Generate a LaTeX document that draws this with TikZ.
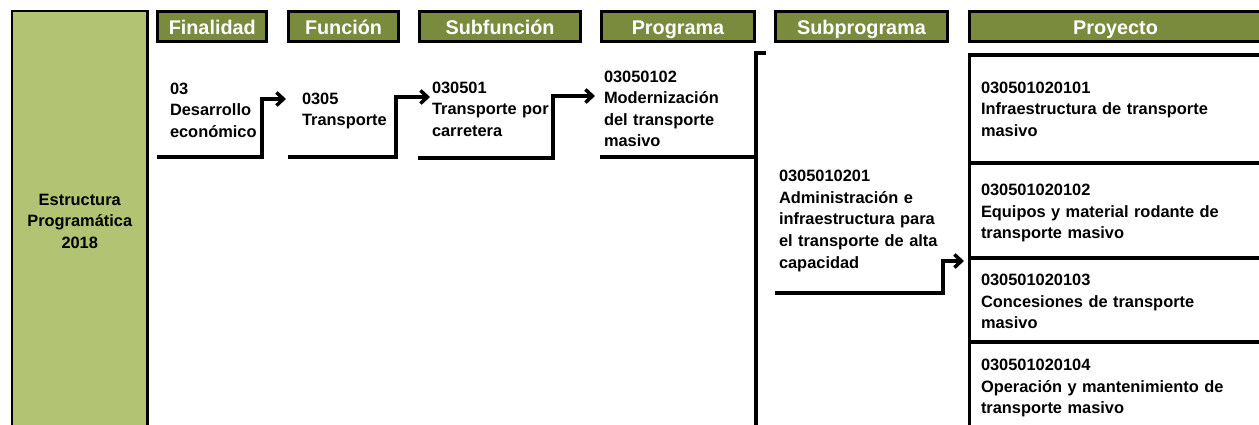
\documentclass[tikz,border=0pt]{standalone}
\usepackage{fontspec}
\setmainfont{Liberation Sans}
\usetikzlibrary{arrows.meta}
\definecolor{hdrc}{RGB}{122,139,62}
\definecolor{lgreen}{RGB}{178,195,115}
\begin{document}
\begin{tikzpicture}[x=1pt,y=-1pt,
  head/.style={draw=black, line width=2.8pt, fill=hdrc, text=white,
    font=\bfseries\fontsize{19.8}{24}\selectfont, minimum height=29.7pt,
    text height=15.2pt, text depth=0pt, inner sep=0pt, outer sep=0pt, anchor=center},
  txt/.style={font=\bfseries\fontsize{16.4}{21.6}\selectfont, text width=300pt,
    align=left, inner sep=0pt, outer sep=0pt, anchor=base west},
  pbox/.style={draw=black, line width=3.8pt, fill=white, inner sep=0pt, outer sep=0pt,
    minimum width=305.5pt, anchor=center},
  conn/.style={draw=black, line width=3.5pt},
  arr/.style={conn, -{Straight Barb[length=7pt,width=13pt]}}
]
\useasboundingbox (0,0) rectangle (1259,424);
\clip (0,0) rectangle (1259,424);
\fill[white] (0,0) rectangle (1259,424);

% left column
\node (estbox) [draw=black, line width=2.6pt, fill=lgreen, inner sep=0pt, outer sep=0pt,
  minimum width=135.3pt, minimum height=438.9pt, anchor=center] at (79.75,230.5) {};
\node (est) [font=\bfseries\fontsize{16.4}{21.6}\selectfont, text width=130pt, align=center,
  inner sep=0pt, anchor=base] at (79.75,205) {Estructura\\Programática\\2018};

% headers
\node (h1) [head, minimum width=109pt] at (212.25,26.4) {Finalidad};
\node (h2) [head, minimum width=110.5pt] at (343.5,26.4) {Función};
\node (h3) [head, minimum width=161.5pt] at (500,26.4) {Subfunción};
\node (h4) [head, minimum width=153.5pt] at (678,26.4) {Programa};
\node (h5) [head, minimum width=172.5pt] at (861.5,26.4) {Subprograma};
\node (h6) [head, minimum width=292.5pt] at (1115.5,26.4) {Proyecto};

% proyecto boxes
\node (pb1) [pbox, minimum height=108pt] at (1122.25,109) {};
\node (pb2) [pbox, minimum height=95pt] at (1122.25,210.5) {};
\node (pb3) [pbox, minimum height=84pt] at (1122.25,300) {};
\node (pb4) [pbox, minimum height=108pt] at (1122.25,396) {};

% texts
\node (fin) [txt] at (170,94) {03\\Desarrollo\\económico};
\node (fun) [txt] at (302,104) {0305\\Transporte};
\node (subf) [txt] at (432,93) {030501\\Transporte por\\carretera};
\node (prog) [txt] at (604,82) {03050102\\Modernización\\del transporte\\masivo};
\node (subp) [txt] at (779,181.7) {0305010201\\Administración e\\infraestructura para\\el transporte de alta\\capacidad};
\node (p1) [txt] at (981,93.3) {030501020101\\Infraestructura de transporte\\masivo};
\node (p2) [txt] at (981,195.5) {030501020102\\Equipos y material rodante de\\transporte masivo};
\node (p3) [txt] at (981,285.5) {030501020103\\Concesiones de transporte\\masivo};
\node (p4) [txt] at (981,370.5) {030501020104\\Operación y mantenimiento de\\transporte masivo};

% connector points
\coordinate (c1a) at (157,157);
\coordinate (c1k) at (262,157);
\coordinate (c1t) at (286,99);
\coordinate (c2a) at (288,157);
\coordinate (c2k) at (396,157);
\coordinate (c2t) at (430,97);
\coordinate (c3a) at (418,158);
\coordinate (c3k) at (553,158);
\coordinate (c3t) at (595,96);
\coordinate (progL) at (600,157);
\coordinate (brJ) at (756,157);
\coordinate (brT) at (766,53);
\coordinate (brB) at (756,450);
\coordinate (c5a) at (775,293);
\coordinate (c5k) at (943,293);
\coordinate (c5t) at (964,261);

\draw[arr] (c1a) -- (c1k) |- (c1t);
\draw[arr] (c2a) -- (c2k) |- (c2t);
\draw[arr] (c3a) -- (c3k) |- (c3t);
\draw[conn] (progL) -- (brJ);
\draw[conn] (brT) -| (brB);
\draw[arr] (c5a) -- (c5k) |- (c5t);
\end{tikzpicture}
\end{document}
